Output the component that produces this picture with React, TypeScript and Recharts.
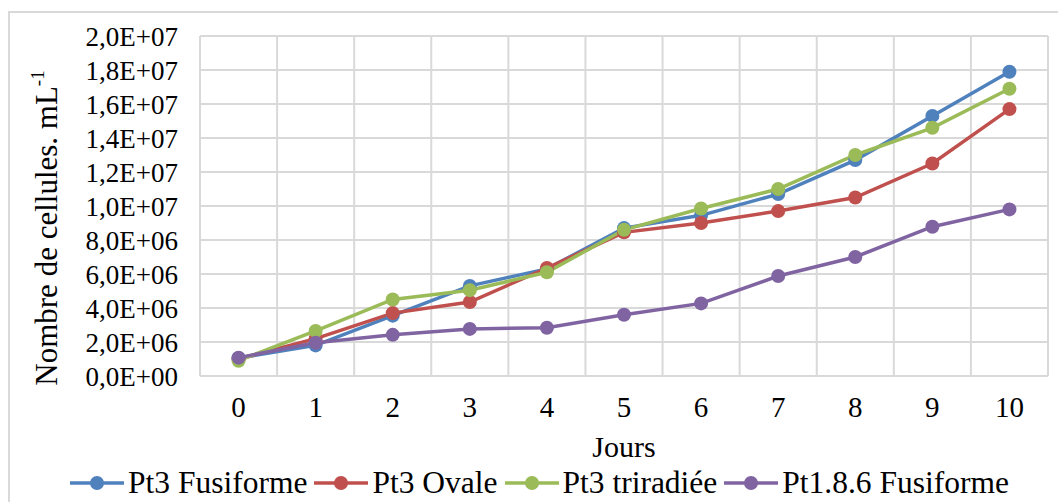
import { LineChart, Line, XAxis, YAxis, CartesianGrid } from "recharts";

const days = ["0", "1", "2", "3", "4", "5", "6", "7", "8", "9", "10"];
const yTicks = [0, 2e6, 4e6, 6e6, 8e6, 1e7, 1.2e7, 1.4e7, 1.6e7, 1.8e7, 2e7];

const pt3Fusiforme = [1.05e6, 1.8e6, 3.55e6, 5.3e6, 6.3e6, 8.7e6, 9.45e6, 10.7e6, 12.7e6, 15.3e6, 17.9e6];
const pt3Ovale = [1.0e6, 2.2e6, 3.7e6, 4.35e6, 6.35e6, 8.45e6, 9.0e6, 9.7e6, 10.5e6, 12.5e6, 15.7e6];
const pt3Triradiee = [0.9e6, 2.65e6, 4.5e6, 5.05e6, 6.1e6, 8.6e6, 9.85e6, 11.0e6, 13.0e6, 14.6e6, 16.9e6];
const pt186Fusiforme = [1.08e6, 1.96e6, 2.42e6, 2.77e6, 2.84e6, 3.6e6, 4.27e6, 5.88e6, 7.0e6, 8.78e6, 9.8e6];

const series = [
  { key: "f", name: "Pt3 Fusiforme", color: "#4F81BD", values: pt3Fusiforme },
  { key: "o", name: "Pt3 Ovale", color: "#C0504D", values: pt3Ovale },
  { key: "t", name: "Pt3 triradiée", color: "#9BBB59", values: pt3Triradiee },
  { key: "p", name: "Pt1.8.6 Fusiforme", color: "#8064A2", values: pt186Fusiforme },
];

const data = days.map((d, i) => {
  const row: Record<string, number | string> = { day: d };
  series.forEach((s) => (row[s.key] = s.values[i]));
  return row;
});

const FONT = "'Liberation Serif', 'Times New Roman', serif";
const GRID = "#d9d9d9";

// 2000000 -> "2,0E+06"
function sci(v: number) {
  if (v === 0) return "0,0E+00";
  const exp = Math.floor(Math.log10(v));
  const m = v / Math.pow(10, exp);
  return m.toFixed(1).replace(".", ",") + "E+" + String(exp).padStart(2, "0");
}

function YLabel({ viewBox }: any) {
  const cx = viewBox.x + 57;
  const cy = viewBox.y + viewBox.height / 2 + 22;
  return (
    <text
      x={cx}
      y={cy}
      transform={`rotate(-90, ${cx}, ${cy})`}
      textAnchor="middle"
      fontFamily={FONT}
      fontSize={31}
      fill="#000"
    >
      Nombre de cellules. mL
      <tspan fontSize={19} dy={-13}>-1</tspan>
    </text>
  );
}

export default function App() {
  return (
    <div style={{ position: "absolute", left: 0, top: 0, width: 1058, height: 502, overflow: "hidden", background: "#fff" }}>
      <div
        style={{
          position: "absolute",
          left: 8,
          top: 11,
          width: 1100,
          height: 600,
          border: `2px solid ${GRID}`,
          boxSizing: "border-box",
        }}
      />
      <div style={{ position: "absolute", left: 0, top: 0 }}>
        <LineChart width={1058} height={502} data={data} margin={{ top: 36, right: 10, bottom: 0, left: 0 }}>
          <CartesianGrid
            stroke={GRID}
            strokeWidth={2}
            verticalCoordinatesGenerator={({ offset }: any) =>
              days.map((_, i) => offset.left + (i * offset.width) / days.length).concat(offset.left + offset.width)
            }
          />
          <XAxis
            dataKey="day"
            scale="band"
            height={126}
            axisLine={{ stroke: GRID, strokeWidth: 2 }}
            tickLine={false}
            tickSize={0}
            tickMargin={20}
            tick={{ fontFamily: FONT, fontSize: 29, fill: "#000" }}
            label={{ value: "Jours", position: "insideBottom", offset: 45, fontFamily: FONT, fontSize: 30, fill: "#000" }}
          />
          <YAxis
            width={200}
            domain={[0, 2e7]}
            ticks={yTicks}
            interval={0}
            tickFormatter={sci}
            axisLine={{ stroke: GRID, strokeWidth: 2 }}
            tickLine={false}
            tickSize={0}
            tickMargin={22}
            tick={{ fontFamily: FONT, fontSize: 27, fill: "#000" }}
            label={<YLabel />}
          />
          {series.map((s) => (
            <Line
              key={s.key}
              dataKey={s.key}
              name={s.name}
              stroke={s.color}
              strokeWidth={3.5}
              dot={{ r: 7, fill: s.color, stroke: "none" }}
              activeDot={false}
              isAnimationActive={false}
            />
          ))}
        </LineChart>
      </div>
      <div
        style={{
          position: "absolute",
          left: 70,
          top: 465,
          display: "flex",
          alignItems: "center",
          fontFamily: FONT,
          fontSize: 31.5,
          lineHeight: "36px",
          color: "#000",
          whiteSpace: "nowrap",
        }}
      >
        {series.map((s) => (
          <div key={s.key} style={{ display: "flex", alignItems: "center", marginRight: 7 }}>
            <svg width={54} height={16} style={{ marginRight: 4 }}>
              <line x1={0} y1={8} x2={54} y2={8} stroke={s.color} strokeWidth={3.5} />
              <circle cx={27} cy={8} r={7} fill={s.color} />
            </svg>
            <span>{s.name}</span>
          </div>
        ))}
      </div>
    </div>
  );
}
